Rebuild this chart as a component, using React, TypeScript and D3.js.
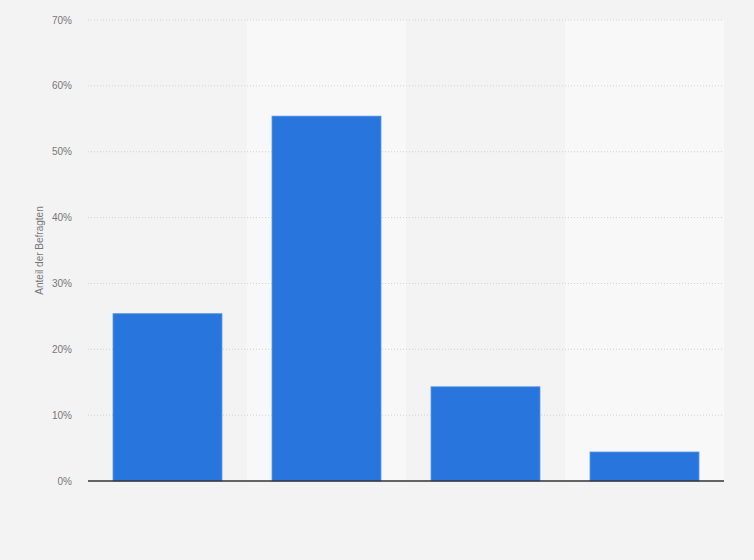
import React from "react";
import * as d3 from "d3";

const categories = ["Kategorie 1", "Kategorie 2", "Kategorie 3", "Kategorie 4"];
const values = [25.4, 55.4, 14.3, 4.4];
const yTicks = [0, 10, 20, 30, 40, 50, 60, 70];
const yLabel = "Anteil der Befragten";

const W = 754;
const H = 560;
const M = { left: 88, right: 30, top: 20, bottom: 79 };

export default function App() {
  const x = d3
    .scaleBand<string>()
    .domain(categories)
    .range([M.left, W - M.right])
    .paddingInner(0)
    .paddingOuter(0);
  const innerPad = 0.315;
  const y = d3.scaleLinear().domain([0, 70]).range([H - M.bottom, M.top]);
  const bw = x.bandwidth();
  const barW = bw * (1 - innerPad);

  return (
    <div style={{ position: "fixed", left: 0, top: 0 }}>
      <svg width={W} height={H} style={{ display: "block", fontFamily: "Arial, 'Liberation Sans', sans-serif" }}>
        <rect x={0} y={0} width={W} height={H} fill="#f3f3f3" />
        {categories.map((c, i) => (
          <rect
            key={"band" + c}
            x={x(c)}
            y={M.top}
            width={bw}
            height={H - M.bottom - M.top}
            fill={i % 2 === 1 ? "#f8f8f8" : "#f3f3f3"}
          />
        ))}
        {yTicks.map((t) => (
          <g key={"t" + t}>
            {t > 0 && (
              <line
                x1={M.left}
                x2={W - M.right}
                y1={y(t)}
                y2={y(t)}
                stroke="#d2d2d2"
                strokeWidth={1}
                strokeDasharray="1,2"
              />
            )}
            <text
              x={72}
              y={y(t)}
              dy="0.35em"
              textAnchor="end"
              fontSize={10}
              fill="#777"
            >
              {t + "%"}
            </text>
          </g>
        ))}
        {categories.map((c, i) => (
          <rect
            key={"bar" + c}
            x={(x(c) as number) + (bw - barW) / 2}
            y={y(values[i])}
            width={barW}
            height={y(0) - y(values[i])}
            fill="#2876dd"
            stroke="#4d8fe6"
            strokeWidth={0.8}
          />
        ))}
        <line
          x1={M.left}
          x2={W - M.right}
          y1={y(0)}
          y2={y(0)}
          stroke="#333"
          strokeWidth={1.3}
        />
        <text
          transform={`translate(43, ${(y(0) + y(70)) / 2}) rotate(-90)`}
          textAnchor="middle"
          fontSize={10}
          fill="#777"
        >
          {yLabel}
        </text>
      </svg>
    </div>
  );
}
